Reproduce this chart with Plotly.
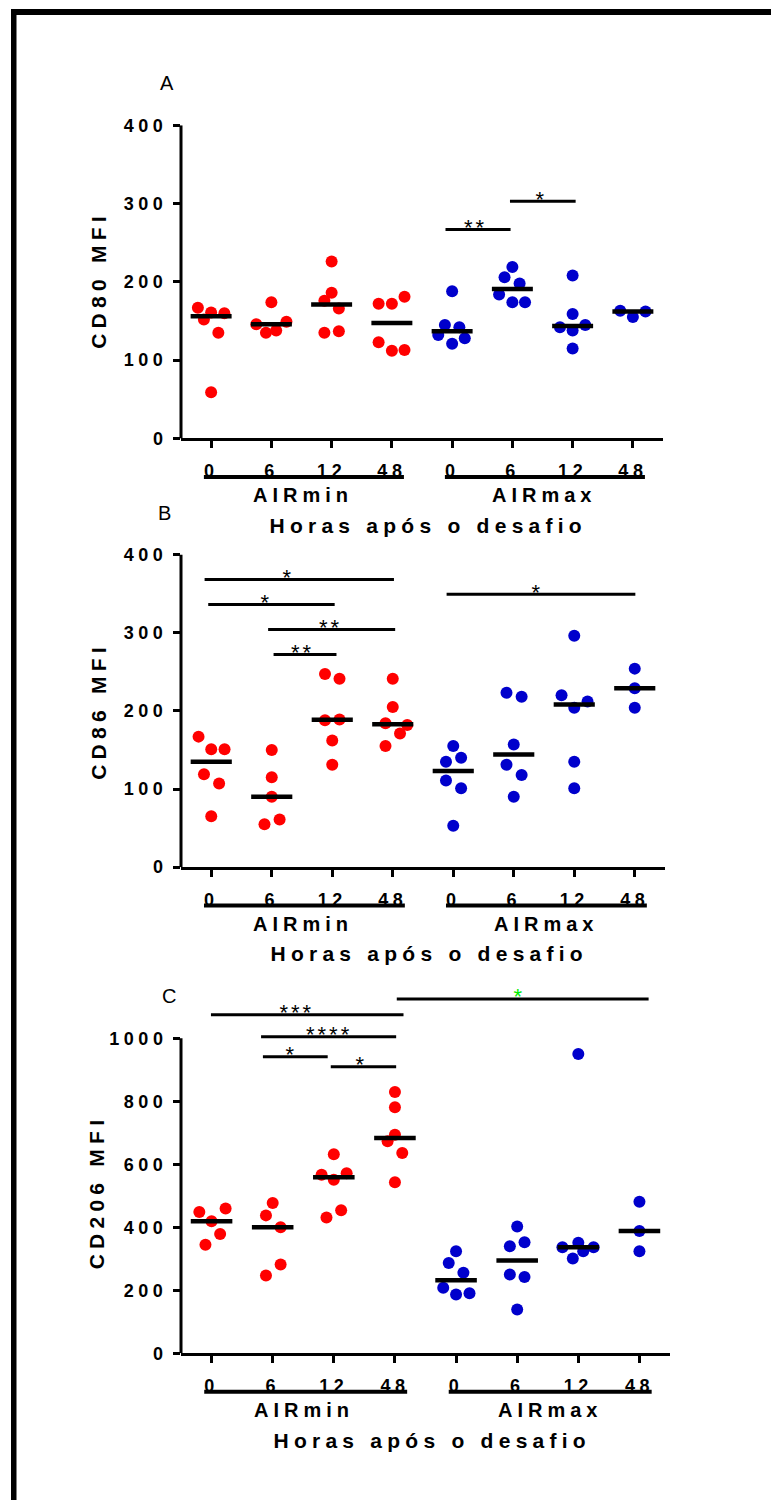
import numpy as np
import plotly.graph_objects as go

W, H = 771, 1500
FONT = "Liberation Sans, Arial, Helvetica, sans-serif"
RED, BLUE, GREEN, BLACK = "#ff0000", "#0000cc", "#00ee00", "#000000"

# ---------------- data ----------------
time_labels = ["0", "6", "12", "48"]
group_labels = ["AIRmin", "AIRmax"]
x_title = "Horas após o desafio"
panel_letters = ["A", "B", "C"]
y_titles = ["CD80 MFI", "CD86 MFI", "CD206 MFI"]

cd80_airmin = [[167, 161, 160, 152, 135, 59], [174, 146, 149, 135, 138],
               [226, 186, 176, 166, 135, 137], [172, 172, 181, 123, 112, 113]]
cd80_airmax = [[188, 145, 142, 132, 128, 121], [219, 206, 198, 184, 174, 174],
               [208, 159, 142, 145, 138, 115], [163, 162, 155]]

cd86_airmin = [[167, 151, 151, 119, 107, 65], [150, 115, 90, 55, 61],
               [247, 241, 188, 189, 162, 131], [241, 205, 184, 182, 171, 155]]
cd86_airmax = [[155, 135, 140, 111, 101, 53], [223, 218, 157, 131, 118, 90],
               [296, 220, 212, 204, 135, 101], [254, 229, 204]]

cd206_airmin = [[449, 460, 419, 379, 345], [477, 438, 400, 282, 247],
                [632, 567, 572, 551, 431, 454], [830, 781, 694, 673, 636, 543]]
cd206_airmax = [[324, 287, 256, 208, 187, 191], [403, 340, 353, 250, 242, 139],
                [950, 351, 337, 337, 324, 301], [481, 388, 324]]

# significance labels
sig_cd80 = ["**", "*"]
sig_cd86 = ["*", "*", "**", "**", "*"]
sig_cd206 = ["***", "****", "*", "*", "*"]

# ---------------- layout helpers (positions, not data) ----------------
# horizontal jitter of the dots (category units)
jit_cd80_min = [[-0.22, 0, 0.22, -0.12, 0.12, 0], [0, -0.25, 0.25, -0.09, 0.08],
                [0, 0, -0.12, 0.12, -0.12, 0.12], [-0.22, 0, 0.21, -0.22, 0, 0.21]]
jit_cd80_max = [[0, -0.12, 0.12, -0.23, 0.21, 0], [0, -0.13, 0.12, -0.22, 0, 0.21],
                [0, 0, -0.21, 0.21, 0, 0], [-0.21, 0.21, 0]]
jit_cd86_min = [[-0.21, 0, 0.22, -0.12, 0.13, 0], [0, 0, 0, -0.12, 0.13],
                [-0.12, 0.12, -0.12, 0.12, 0, 0], [0, 0, -0.12, 0.24, 0.12, -0.12]]
jit_cd86_max = [[0, -0.12, 0.13, -0.12, 0.13, 0], [-0.12, 0.13, 0, -0.12, 0.13, 0],
                [0, -0.21, 0.22, 0, 0, 0], [0, 0, 0]]
jit_cd206_min = [[-0.20, 0.23, 0, 0.14, -0.10], [0, -0.11, 0.13, 0.13, -0.11],
                 [0, -0.20, 0.21, 0, -0.12, 0.12], [0, 0, 0, -0.12, 0.12, 0]]
jit_cd206_max = [[0, -0.12, 0.12, -0.21, 0, 0.22], [0, -0.12, 0.12, -0.12, 0.12, 0],
                 [0, 0, -0.26, 0.25, 0.08, -0.09], [0, 0, 0]]

# significance bar geometry: (x start, x end, level, star x)
sigpos_cd80 = [(3.89, 4.97, 267, 4.39), (4.96, 6.05, 303, 5.49)]
sigpos_cd86 = [(-0.11, 3.02, 368, 1.27), (-0.05, 2.04, 336, 0.92),
               (0.94, 3.04, 304, 1.98), (1.03, 2.07, 272, 1.52), (3.89, 7.01, 349, 5.40)]
sigpos_cd206 = [(-0.01, 3.14, 1075, 1.39), (0.81, 3.02, 1005, 1.93),
                (0.84, 1.90, 942, 1.30), (1.95, 3.02, 910, 2.45), (3.03, 7.15, 1125, 5.04)]
sigcol_cd206 = [BLACK, BLACK, BLACK, BLACK, GREEN]

panels = [
    dict(mins=cd80_airmin, maxs=cd80_airmax, jmin=jit_cd80_min, jmax=jit_cd80_max,
         sig=sig_cd80, sigpos=sigpos_cd80, sigcol=[BLACK] * 2,
         xl=181, xr=663, y0=437, ytop=123, tickmax=400, dtick=100, rtop=400,
         letter=(167, 81), ytitle=(99, 278)),
    dict(mins=cd86_airmin, maxs=cd86_airmax, jmin=jit_cd86_min, jmax=jit_cd86_max,
         sig=sig_cd86, sigpos=sigpos_cd86, sigcol=[BLACK] * 5,
         xl=181, xr=665, y0=866.7, ytop=553.3, tickmax=400, dtick=100, rtop=400,
         letter=(164, 512), ytitle=(99, 710)),
    dict(mins=cd206_airmin, maxs=cd206_airmax, jmin=jit_cd206_min, jmax=jit_cd206_max,
         sig=sig_cd206, sigpos=sigpos_cd206, sigcol=sigcol_cd206,
         xl=181, xr=670, y0=1354, ytop=1038.3, tickmax=1000, dtick=200, rtop=1180,
         letter=(169, 996), ytitle=(97, 1193)),
]

# vertical correction for the page offset / scale observed in the rendering
Y_OFF, Y_SCALE = 7.5, 0.989


def px(x):
    return x / W


def py(y):
    return 1 - ((y - Y_OFF) / Y_SCALE) / H


fig = go.Figure()
shapes, annotations = [], []
bold = dict(family=FONT, color=BLACK, weight="bold")

for i, p in enumerate(panels):
    s = "" if i == 0 else str(i + 1)
    xa, ya = "x" + s, "y" + s
    top_px = p["y0"] - (p["y0"] - p["ytop"]) * p["rtop"] / p["tickmax"]

    # dots
    for vals, jit, col in ((p["mins"], p["jmin"], RED), (p["maxs"], p["jmax"], BLUE)):
        off = 0 if col == RED else 4
        xs, ys = [], []
        for t, (v, j) in enumerate(zip(vals, jit)):
            xs += [off + t + d for d in j]
            ys += list(v)
        fig.add_trace(go.Scatter(x=xs, y=ys, mode="markers", xaxis=xa, yaxis=ya,
                                 marker=dict(color=col, size=12, line=dict(width=0)),
                                 cliponaxis=False, showlegend=False, hoverinfo="skip"))
    # medians
    mx, my = [], []
    for g, vals in enumerate((p["mins"], p["maxs"])):
        for t, v in enumerate(vals):
            c = g * 4 + t
            m = float(np.median(v))
            mx += [c - 0.34, c + 0.34, None]
            my += [m, m, None]
    fig.add_trace(go.Scatter(x=mx, y=my, mode="lines", xaxis=xa, yaxis=ya,
                             line=dict(color=BLACK, width=4.5), showlegend=False,
                             hoverinfo="skip"))
    # significance bars
    for lab, (a, b, lev, sx), col in zip(p["sig"], p["sigpos"], p["sigcol"]):
        fig.add_trace(go.Scatter(x=[a, b], y=[lev, lev], mode="lines", xaxis=xa, yaxis=ya,
                                 line=dict(color=BLACK, width=3), showlegend=False,
                                 hoverinfo="skip"))
        annotations.append(dict(x=sx, y=lev, xref=xa, yref=ya, text=lab, showarrow=False,
                                xanchor="center", yanchor="middle", yshift=2,
                                font=dict(family=FONT, size=22, color=col)))

    fig.update_layout(**{
        ("xaxis" + s): dict(domain=[px(p["xl"]), px(p["xr"])], anchor=ya,
                            range=[-0.5, 7.5], tickmode="array", tickvals=list(range(8)),
                            ticktext=time_labels * 2, showline=True, linecolor=BLACK,
                            linewidth=3, ticks="outside", ticklen=7, tickwidth=3,
                            tickcolor=BLACK, showgrid=False, zeroline=False,
                            tickfont=dict(size=18, **bold), ticklabelstandoff=7,
                            fixedrange=True),
        ("yaxis" + s): dict(domain=[py(p["y0"]), py(top_px)], anchor=xa,
                            range=[0, p["rtop"]], tickmode="array",
                            tickvals=list(range(0, p["tickmax"] + 1, p["dtick"])),
                            showline=False, ticks="outside", ticklen=7, tickwidth=3,
                            tickcolor=BLACK, showgrid=False, zeroline=False,
                            tickfont=dict(size=18, **bold), ticklabelstandoff=2,
                            fixedrange=True),
    })
    # y axis line (only up to the top tick)
    shapes.append(dict(type="line", xref=xa + " domain", yref=ya, x0=0, x1=0,
                       y0=0, y1=p["tickmax"], line=dict(color=BLACK, width=3)))
    # group underline bars
    for g, (a, b) in enumerate(((-0.12, 3.2), (3.88, 7.2))):
        shapes.append(dict(type="line", xref=xa, yref="paper", x0=a, x1=b,
                           y0=py(p["y0"] + 38.5), y1=py(p["y0"] + 38.5),
                           line=dict(color=BLACK, width=4)))
        annotations.append(dict(x=(1.52, 5.53)[g], y=py(p["y0"] + 57), xref=xa, yref="paper",
                                text=group_labels[g], showarrow=False, xanchor="center",
                                yanchor="middle", font=dict(size=20, **bold)))
    annotations.append(dict(x=3.6, y=py(p["y0"] + 87), xref=xa, yref="paper", text=x_title,
                            showarrow=False, xanchor="center", yanchor="middle",
                            font=dict(size=21, **bold)))
    annotations.append(dict(x=px(p["ytitle"][0]), y=py(p["ytitle"][1]), xref="paper",
                            yref="paper", text=y_titles[i], textangle=-90, showarrow=False,
                            xanchor="center", yanchor="middle", font=dict(size=21, **bold)))
    annotations.append(dict(x=px(p["letter"][0]), y=py(p["letter"][1]), xref="paper",
                            yref="paper", text=panel_letters[i], showarrow=False,
                            xanchor="center", yanchor="middle",
                            font=dict(family=FONT, size=20, color=BLACK)))

# frame lines (top and left)
shapes.append(dict(type="rect", xref="paper", yref="paper", x0=px(11), x1=1.01,
                   y0=py(12.5), y1=py(6.5), fillcolor=BLACK, line=dict(width=0)))
shapes.append(dict(type="rect", xref="paper", yref="paper", x0=px(11), x1=px(16.5),
                   y0=-0.02, y1=py(6.5), fillcolor=BLACK, line=dict(width=0)))

fig.update_layout(width=W, height=H, margin=dict(l=0, r=0, t=0, b=0),
                  paper_bgcolor="white", plot_bgcolor="white",
                  font=dict(family=FONT, color=BLACK),
                  shapes=shapes, annotations=annotations, showlegend=False)

spacing_js = """
var gd = document.getElementById('{plot_id}');
function applySpacing(){
  gd.querySelectorAll('svg text').forEach(function(t){
    var txt = t.textContent || '';
    var fw = String(t.style.fontWeight || '');
    var fs = parseFloat(t.style.fontSize) || 16;
    if (/^\\*+$/.test(txt)) { t.style.letterSpacing = '3px'; }
    else if (fw === 'bold' || fw === '700') {
      t.style.letterSpacing = (fs * 0.25).toFixed(2) + 'px';
    }
  });
}
applySpacing();
gd.on('plotly_afterplot', applySpacing);
setTimeout(applySpacing, 30);
"""

fig.write_html("out.html", post_script=spacing_js, config={"staticPlot": True})
